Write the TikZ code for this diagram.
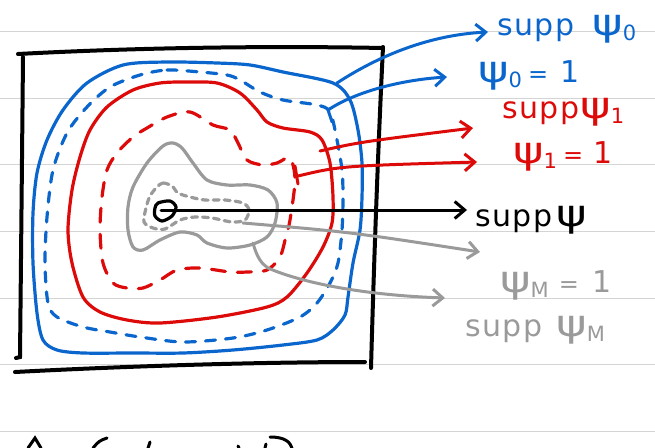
\documentclass[tikz,border=0pt]{standalone}
\usepackage{fontspec}
\newfontfamily\hand[LetterSpace=5]{DejaVu Sans}
\usetikzlibrary{arrows.meta}
\definecolor{pblue}{HTML}{0A66CC}
\definecolor{pred}{HTML}{DD0A0A}
\definecolor{pgray}{HTML}{9A9A9A}
\definecolor{ruleclr}{HTML}{D4D4D4}
\newcommand\bigpsi{{\fontsize{37}{37}\selectfont\scalebox{1.25}[1]{ψ}}}
\newcommand\psub[1]{\raisebox{-5pt}{\fontsize{21}{21}\selectfont #1}}
\newcommand\eqsign{{\fontsize{24}{24}\selectfont =}}
\begin{document}
\begin{tikzpicture}[x=1pt,y=-1pt,
  ruleline/.style={ruleclr, line width=1pt},
  frame/.style={black, line width=4pt, line cap=round},
  contour/.style={line width=3.2pt, line cap=round, line join=round},
  bluedash/.style={contour, pblue, dash pattern=on 10pt off 10pt},
  reddash/.style={contour, pred, dash pattern=on 14pt off 12pt},
  graydash/.style={contour, pgray, dash pattern=on 6pt off 5pt},
  pointer/.style={line width=3pt, line cap=round, -{Straight Barb[length=10pt,width=17pt]}},
  tick/.style={line width=3pt, line cap=round},
  lab/.style={inner sep=0pt, anchor=base west, font=\hand\fontsize{30}{32}\selectfont}]
\useasboundingbox (0,0) rectangle (655,447);
% ruled paper
\foreach \yy in {31,98,164,231,298,364,431} \draw[ruleline] (0,\yy) -- (655,\yy);
% frame
\draw[frame] (18,54) .. controls (150,47) and (280,46) .. (383,48);
\draw[frame] (383,47) .. controls (378,150) and (374,260) .. (371,368);
\draw[frame] (15,372) .. controls (130,366) and (260,362) .. (365,362);
\draw[frame] (23,57) .. controls (22,160) and (21,260) .. (20,357) -- (16,358);
% blue solid (supp psi_0)
\draw[contour, pblue] plot[smooth cycle] coordinates {(123,65) (167,62) (217,63) (250,65) (283,72) (333,83) (350,100) (358,130) (362,163) (362,197) (360,230) (353,263) (348,297) (345,315) (333,330) (317,340) (283,345) (233,350) (183,353) (133,353) (83,353) (57,350) (43,340) (37,313) (33,263) (33,213) (37,173) (47,140) (63,110) (87,83)};
% blue dashed (psi_0 = 1)
\draw[bluedash] plot[smooth cycle] coordinates {(140,75) (167,70) (200,72) (227,75) (240,80) (260,92) (283,100) (317,105) (330,112) (337,140) (342,170) (343,197) (342,230) (338,263) (330,283) (317,303) (300,317) (267,330) (233,338) (183,342) (140,337) (110,332) (83,327) (57,317) (48,303) (45,263) (47,217) (53,170) (67,133) (87,107) (110,87)};
% red solid (supp psi_1)
\draw[contour, pred] plot[smooth cycle] coordinates {(187,82) (217,83) (240,93) (257,110) (267,122) (283,128) (310,132) (322,140) (330,163) (333,197) (332,223) (323,247) (307,273) (287,297) (267,307) (217,317) (160,323) (127,320) (100,312) (83,297) (72,263) (68,230) (72,190) (80,157) (90,130) (107,107) (133,90) (160,83)};
% red dashed (psi_1 = 1)
\draw[reddash] plot[smooth cycle] coordinates {(190,112) (213,125) (230,130) (238,143) (247,160) (263,165) (277,163) (290,158) (295,180) (290,220) (286,236) (280,257) (267,270) (247,272) (230,272) (200,268) (177,270) (160,280) (143,288) (127,288) (113,283) (103,263) (100,230) (102,197) (107,170) (117,153) (133,137) (147,128) (167,117)};
% gray solid (supp psi_M)
\draw[contour, pgray] plot[smooth cycle] coordinates {(173,143) (182,148) (193,163) (207,180) (227,185) (250,185) (268,190) (277,203) (275,223) (267,237) (250,245) (227,248) (207,243) (197,235) (180,232) (160,240) (143,250) (133,247) (128,230) (128,207) (133,187) (147,163) (163,146)};
% gray dashed (psi_M = 1)
\draw[graydash] plot[smooth cycle] coordinates {(157,187) (163,183) (172,186) (178,193) (190,197) (205,200) (225,200) (243,203) (249,210) (245,220) (232,222) (212,218) (195,217) (180,220) (165,229) (153,228) (144,222) (146,208) (150,196)};
% supp psi (small loop)
\draw[contour, black] plot[smooth cycle] coordinates {(158,203) (170,201) (176,207) (172,216) (162,221) (155,216) (155,208)};

% anchor points on the curves
\coordinate (s0) at (337,83);
\coordinate (e0) at (328,110);
\coordinate (e0t) at (332,122);
\coordinate (s1) at (320,151);
\coordinate (e1) at (298,176);
\coordinate (e1a) at (295,166);
\coordinate (e1b) at (298,184);
\coordinate (c0) at (161,210);
\coordinate (eM) at (243,223);
\coordinate (sM) at (253,243);
\coordinate (sMk) at (268,268);
% arrow tips
\coordinate (t0) at (488,32);
\coordinate (te0) at (447,77);
\coordinate (t1) at (473,128);
\coordinate (te1) at (477,162);
\coordinate (tc) at (467,210);
\coordinate (teM) at (480,252);
\coordinate (tsM) at (445,298);

% labels
\node[lab, pblue] (L0) at (497,35) {supp\hspace{18pt}\bigpsi\psub{0}};
\node[lab, pblue] (L0e) at (478,82) {\bigpsi\psub{0}\hspace{6pt}\eqsign\hspace{12pt}1};
\node[lab, pred] (L1) at (502,118) {supp\hspace{1pt}\bigpsi\psub{1}};
\node[lab, pred] (L1e) at (513,163) {\bigpsi\psub{1}\hspace{6pt}\eqsign\hspace{10pt}1};
\node[lab, black] (L) at (475,226) {supp\hspace{4pt}\bigpsi};
\node[lab, pgray] (LMe) at (500,292) {\bigpsi\psub{M}\hspace{10pt}\eqsign\hspace{14pt}1};
\node[lab, pgray] (LM) at (465,336) {supp\hspace{14pt}\bigpsi\psub{M}};

% connectors
\draw[pointer, pblue] (s0) .. controls (380,55) and (430,35) .. (t0);
\draw[pointer, pblue] (e0) .. controls (355,92) and (400,80) .. (te0);
\draw[tick, pblue] (e0) -- (e0t);
\draw[pointer, pred] (s1) .. controls (360,142) .. (t1);
\draw[pointer, pred] (e1) .. controls (340,166) .. (te1);
\draw[tick, pred] (e1a) -- (e1b);
\draw[pointer, black] (c0) -- (tc);
\draw[pointer, pgray] (eM) .. controls (350,232) .. (teM);
\draw[pointer, pgray] (sM) .. controls (257,258) and (262,264) .. (sMk) .. controls (300,282) and (360,295) .. (tsM);

% cut-off writing at the bottom edge
\draw[tick, black] (28,448) -- (35,438) -- (41,448);
\draw[tick, black] (107,438) .. controls (99,441) .. (93,448);
\draw[tick, black] (150,442) -- (148,448);
\draw[tick, black] (238,446) -- (239,448);
\draw[tick, black] (266,444) -- (265,448);
\draw[tick, black] (270,437) .. controls (285,437) and (290,442) .. (292,448);
\end{tikzpicture}
\end{document}
